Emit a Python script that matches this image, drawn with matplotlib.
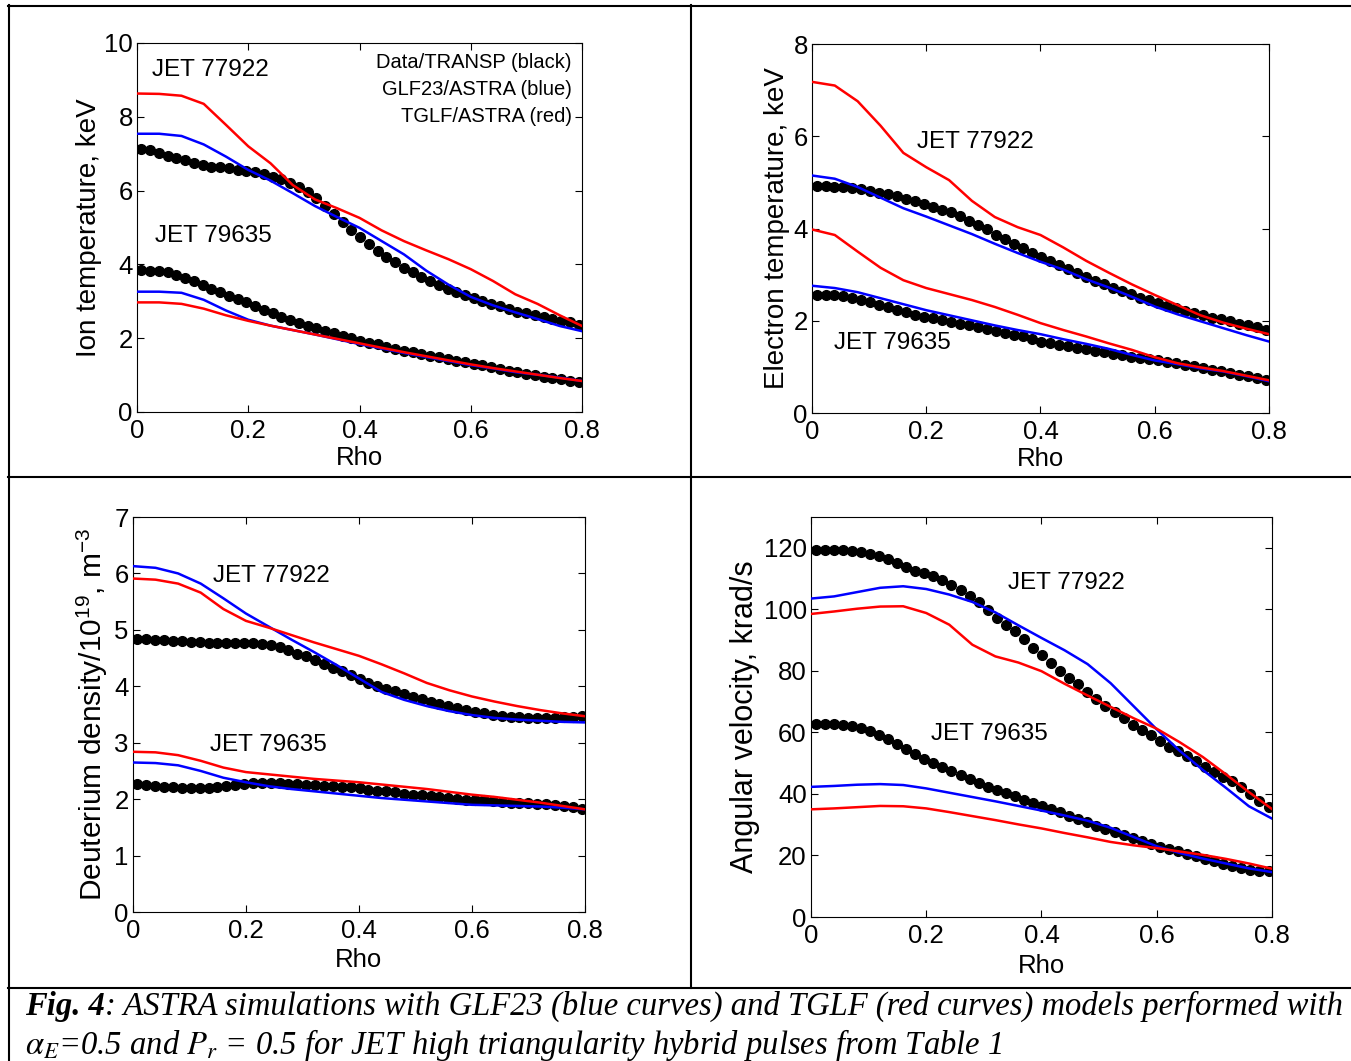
import numpy as np
import matplotlib
matplotlib.use('Agg')
import matplotlib.pyplot as plt
from matplotlib.lines import Line2D

plt.rcParams['font.family'] = ['Liberation Sans', 'DejaVu Sans']
plt.rcParams['mathtext.fontset'] = 'custom'
plt.rcParams['mathtext.rm'] = 'Liberation Sans'
plt.rcParams['mathtext.it'] = 'Liberation Sans:italic'

# radial grids: measured profiles (dots) and simulated profiles (lines)
rho_dots = np.linspace(0.008, 0.794, 51)
rho_line = np.linspace(0.0, 0.8, 21)

# ---- Ion temperature, keV ----
ti_77922_data = [7.13, 7.09, 7.03, 6.94, 6.88, 6.82, 6.74, 6.70, 6.65, 6.63,
                 6.60, 6.57, 6.54, 6.50, 6.45, 6.38, 6.31, 6.20, 6.09, 5.96,
                 5.80, 5.59, 5.37, 5.14, 4.94, 4.74, 4.54, 4.36, 4.20, 4.06,
                 3.91, 3.78, 3.66, 3.55, 3.44, 3.33, 3.24, 3.16, 3.08, 3.00,
                 2.92, 2.86, 2.79, 2.72, 2.67, 2.63, 2.58, 2.52, 2.47, 2.43, 2.37]
ti_77922_glf = [7.54, 7.54, 7.48, 7.25, 6.92, 6.56, 6.27, 5.93, 5.58, 5.28, 4.99,
                4.63, 4.27, 3.83, 3.45, 3.12, 2.89, 2.70, 2.52, 2.33, 2.19]
ti_77922_tglf = [8.63, 8.62, 8.57, 8.35, 7.78, 7.20, 6.74, 6.15, 5.76, 5.52, 5.26,
                 4.92, 4.63, 4.38, 4.14, 3.87, 3.55, 3.19, 2.93, 2.62, 2.33]
ti_79635_data = [3.84, 3.82, 3.81, 3.78, 3.72, 3.64, 3.55, 3.44, 3.34, 3.24,
                 3.15, 3.06, 2.97, 2.86, 2.76, 2.67, 2.58, 2.49, 2.42, 2.34,
                 2.27, 2.20, 2.13, 2.06, 2.00, 1.93, 1.88, 1.83, 1.77, 1.72,
                 1.66, 1.62, 1.57, 1.53, 1.48, 1.44, 1.39, 1.35, 1.30, 1.26,
                 1.21, 1.17, 1.12, 1.08, 1.03, 1.00, 0.96, 0.93, 0.89, 0.85, 0.81]
ti_79635_glf = [3.26, 3.26, 3.23, 3.04, 2.75, 2.50, 2.34, 2.22, 2.10, 1.97, 1.84,
                1.72, 1.60, 1.49, 1.38, 1.27, 1.18, 1.08, 1.01, 0.93, 0.84]
ti_79635_tglf = [2.97, 2.97, 2.93, 2.80, 2.62, 2.47, 2.34, 2.22, 2.10, 1.98, 1.86,
                 1.74, 1.62, 1.51, 1.40, 1.29, 1.19, 1.10, 1.01, 0.92, 0.84]

# ---- Electron temperature, keV ----
te_77922_data = [4.92, 4.92, 4.91, 4.89, 4.88, 4.86, 4.82, 4.78, 4.74, 4.70,
                 4.65, 4.60, 4.54, 4.47, 4.40, 4.35, 4.27, 4.17, 4.08, 3.99,
                 3.87, 3.77, 3.67, 3.58, 3.48, 3.39, 3.29, 3.21, 3.12, 3.04,
                 2.95, 2.86, 2.79, 2.72, 2.65, 2.58, 2.50, 2.45, 2.39, 2.33,
                 2.27, 2.22, 2.17, 2.12, 2.07, 2.03, 1.99, 1.94, 1.90, 1.86, 1.81]
te_77922_glf = [5.15, 5.08, 4.90, 4.67, 4.44, 4.26, 4.07, 3.88, 3.67, 3.47, 3.28,
                3.11, 2.90, 2.72, 2.52, 2.31, 2.14, 1.99, 1.84, 1.69, 1.55]
te_77922_tglf = [7.18, 7.10, 6.76, 6.23, 5.64, 5.33, 5.05, 4.60, 4.25, 4.03, 3.86,
                 3.59, 3.30, 3.04, 2.79, 2.56, 2.34, 2.12, 1.96, 1.83, 1.71]
te_79635_data = [2.56, 2.56, 2.55, 2.53, 2.49, 2.45, 2.40, 2.35, 2.29, 2.23,
                 2.18, 2.13, 2.09, 2.05, 2.01, 1.97, 1.94, 1.90, 1.86, 1.82,
                 1.78, 1.74, 1.70, 1.66, 1.60, 1.55, 1.52, 1.48, 1.45, 1.42,
                 1.38, 1.35, 1.32, 1.29, 1.25, 1.22, 1.19, 1.17, 1.14, 1.11,
                 1.08, 1.05, 1.01, 0.98, 0.94, 0.91, 0.87, 0.83, 0.80, 0.76, 0.71]
te_79635_glf = [2.76, 2.71, 2.62, 2.49, 2.36, 2.23, 2.12, 2.01, 1.90, 1.80, 1.71,
                1.60, 1.50, 1.39, 1.26, 1.14, 1.06, 0.97, 0.90, 0.80, 0.69]
te_79635_tglf = [3.98, 3.86, 3.50, 3.15, 2.88, 2.71, 2.58, 2.45, 2.30, 2.13, 1.95,
                 1.80, 1.66, 1.51, 1.37, 1.21, 1.08, 0.99, 0.91, 0.81, 0.71]

# ---- Deuterium density, 1e19 m^-3 ----
nd_77922_data = [4.83, 4.83, 4.82, 4.82, 4.81, 4.80, 4.79, 4.78, 4.77, 4.77,
                 4.76, 4.76, 4.76, 4.76, 4.75, 4.73, 4.69, 4.64, 4.58, 4.53,
                 4.47, 4.40, 4.33, 4.27, 4.20, 4.13, 4.06, 4.00, 3.95, 3.91,
                 3.86, 3.81, 3.77, 3.73, 3.69, 3.65, 3.62, 3.58, 3.55, 3.52,
                 3.50, 3.47, 3.46, 3.45, 3.44, 3.43, 3.43, 3.44, 3.45, 3.46, 3.47]
nd_77922_glf = [6.13, 6.10, 6.00, 5.82, 5.56, 5.29, 5.06, 4.83, 4.61, 4.38, 4.14,
                3.90, 3.76, 3.65, 3.56, 3.49, 3.44, 3.41, 3.39, 3.37, 3.36]
nd_77922_tglf = [5.91, 5.89, 5.82, 5.66, 5.37, 5.16, 5.04, 4.91, 4.78, 4.66, 4.54,
                 4.39, 4.23, 4.06, 3.93, 3.82, 3.73, 3.65, 3.58, 3.52, 3.47]
nd_79635_data = [2.27, 2.25, 2.24, 2.22, 2.21, 2.19, 2.19, 2.19, 2.19, 2.21,
                 2.24, 2.26, 2.27, 2.28, 2.28, 2.28, 2.28, 2.27, 2.27, 2.26,
                 2.25, 2.24, 2.23, 2.22, 2.21, 2.19, 2.17, 2.15, 2.14, 2.12,
                 2.10, 2.08, 2.07, 2.05, 2.04, 2.02, 2.01, 1.99, 1.99, 1.98,
                 1.97, 1.95, 1.94, 1.94, 1.93, 1.92, 1.91, 1.90, 1.88, 1.86, 1.83]
nd_79635_glf = [2.65, 2.64, 2.60, 2.50, 2.38, 2.30, 2.23, 2.18, 2.14, 2.10, 2.06,
                2.02, 1.99, 1.96, 1.93, 1.90, 1.89, 1.88, 1.87, 1.85, 1.82]
nd_79635_tglf = [2.84, 2.83, 2.78, 2.68, 2.56, 2.48, 2.44, 2.40, 2.36, 2.33, 2.30,
                 2.26, 2.22, 2.18, 2.13, 2.08, 2.04, 1.99, 1.94, 1.88, 1.82]

# ---- Angular velocity, krad/s ----
om_77922_data = [119.3, 119.3, 119.3, 119.2, 119.0, 118.6, 118.0, 117.4, 116.3, 115.0,
                 113.7, 112.5, 111.7, 110.7, 109.4, 108.0, 106.2, 104.2, 102.3, 99.9,
                 97.3, 94.9, 92.9, 90.2, 87.5, 85.0, 82.4, 79.9, 77.8, 75.6,
                 73.1, 70.7, 68.6, 66.7, 64.8, 62.4, 60.8, 59.1, 57.2, 55.4,
                 54.0, 52.2, 50.8, 48.9, 47.2, 45.6, 44.2, 42.1, 40.0, 37.7, 35.6]
om_77922_glf = [103.5, 104.2, 105.6, 107.0, 107.5, 106.6, 104.8, 102.4, 99.0, 94.8, 90.7,
                86.7, 82.2, 76.0, 68.5, 61.0, 54.0, 47.8, 42.0, 36.0, 32.0]
om_77922_tglf = [98.5, 99.3, 100.2, 100.9, 101.0, 98.8, 95.0, 88.5, 84.7, 82.7, 79.9,
                 75.8, 72.0, 68.3, 64.6, 61.2, 56.8, 52.0, 46.4, 40.6, 35.1]
om_79635_data = [62.7, 62.7, 62.6, 62.5, 62.1, 61.3, 60.5, 59.2, 57.8, 56.3,
                 54.5, 52.9, 51.3, 50.0, 48.8, 47.5, 46.2, 45.0, 43.7, 42.4,
                 41.3, 40.2, 39.2, 38.1, 36.9, 36.0, 35.1, 34.0, 32.9, 31.9,
                 30.8, 29.7, 28.6, 27.5, 26.7, 25.7, 24.7, 23.8, 22.9, 22.1,
                 21.3, 20.5, 19.7, 18.9, 18.1, 17.3, 16.5, 15.9, 15.3, 15.0, 14.8]
om_79635_glf = [42.3, 42.6, 43.0, 43.2, 42.9, 41.8, 40.4, 39.0, 37.6, 36.1, 34.6,
                33.0, 31.3, 29.0, 26.0, 23.0, 20.8, 19.0, 17.4, 15.8, 14.6]
om_79635_tglf = [35.0, 35.3, 35.7, 36.1, 36.0, 35.3, 34.1, 32.8, 31.5, 30.1, 28.8,
                 27.3, 25.9, 24.4, 23.3, 22.4, 21.3, 20.2, 18.9, 17.4, 15.7]

panels = [
    dict(rect=[0.1014, 0.6117, 0.3294, 0.3478], ylim=(0, 10), yticks=[0, 2, 4, 6, 8, 10],
         ylabel='Ion temperature, keV', lx=-0.079, lsize=20,
         series=[(ti_77922_data, ti_77922_glf, ti_77922_tglf),
                 (ti_79635_data, ti_79635_glf, ti_79635_tglf)],
         labels=[(0.027, 9.27), (0.032, 4.77)]),
    dict(rect=[0.6010, 0.6107, 0.3383, 0.3478], ylim=(0, 8), yticks=[0, 2, 4, 6, 8],
         ylabel='Electron temperature, keV', lx=-0.048, lsize=20,
         series=[(te_77922_data, te_77922_glf, te_77922_tglf),
                 (te_79635_data, te_79635_glf, te_79635_tglf)],
         labels=[(0.184, 5.88), (0.0385, 1.52)]),
    dict(rect=[0.0984, 0.1404, 0.3346, 0.3723], ylim=(0, 7), yticks=[0, 1, 2, 3, 4, 5, 6, 7],
         ylabel=r'Deuterium density/10$^{19}$, m$^{-3}$', lx=-0.051, lsize=21.5,
         series=[(nd_77922_data, nd_77922_glf, nd_77922_tglf),
                 (nd_79635_data, nd_79635_glf, nd_79635_tglf)],
         labels=[(0.1416, 5.96), (0.136, 2.96)]),
    dict(rect=[0.6003, 0.1357, 0.3412, 0.3770], ylim=(0, 130), yticks=[0, 20, 40, 60, 80, 100, 120],
         ylabel='Angular velocity, krad/s', lx=-0.111, lsize=22,
         series=[(om_77922_data, om_77922_glf, om_77922_tglf),
                 (om_79635_data, om_79635_glf, om_79635_tglf)],
         labels=[(0.342, 108.6), (0.208, 59.5)]),
]
pulse_names = ['JET 77922', 'JET 79635']

fig = plt.figure(figsize=(13.51, 10.61), dpi=100)

for i, p in enumerate(panels):
    ax = fig.add_axes(p['rect'])
    for data, glf, tglf in p['series']:
        ax.plot(rho_dots, data, 'o', color='black', markersize=7, zorder=2)
        ax.plot(rho_line, glf, color='#0000ff', lw=1.8, zorder=3)
        ax.plot(rho_line, tglf, color='#ff0000', lw=1.8, zorder=4)
    for name, (x, y) in zip(pulse_names, p['labels']):
        ax.text(x, y, name, fontsize=17.5, ha='left', va='center')
    ax.set_xlim(0, 0.8)
    ax.set_ylim(*p['ylim'])
    ax.set_xticks([0, 0.2, 0.4, 0.6, 0.8])
    ax.set_xticklabels(['0', '0.2', '0.4', '0.6', '0.8'])
    ax.set_yticks(p['yticks'])
    ax.tick_params(direction='in', top=True, right=True, length=5, width=0.8,
                   labelsize=18.5)
    ax.tick_params(axis='x', pad=5)
    ax.tick_params(axis='y', pad=3)
    for s in ax.spines.values():
        s.set_linewidth(0.8)
    ax.set_xlabel('Rho', fontsize=18.5)
    ax.xaxis.set_label_coords(0.5, -0.092)
    ax.set_ylabel(p['ylabel'], fontsize=p['lsize'])
    ax.yaxis.set_label_coords(p['lx'], 0.5)
    if i == 0:
        ax.text(0.782, 9.46, 'Data/TRANSP (black)', fontsize=14.5, ha='right', va='center')
        ax.text(0.782, 8.73, 'GLF23/ASTRA (blue)', fontsize=14.5, ha='right', va='center')
        ax.text(0.782, 8.00, 'TGLF/ASTRA (red)', fontsize=14.5, ha='right', va='center')

# table frame around the panels
W, H = 1351.0, 1061.0
def hline(y, x0, x1, lw=1.5):
    fig.add_artist(Line2D([x0 / W, x1 / W], [1 - y / H, 1 - y / H], color='black',
                          lw=lw, transform=fig.transFigure))
def vline(x, y0, y1, lw=1.5):
    fig.add_artist(Line2D([x / W, x / W], [1 - y0 / H, 1 - y1 / H], color='black',
                          lw=lw, transform=fig.transFigure))

hline(5.5, 8, 1351)
hline(477, 8, 1351)
hline(988, 8, 1351)
vline(9, 5, 1061)
vline(691, 5, 988)

# caption
cap_font = ['Liberation Serif', 'DejaVu Serif']
plt.rcParams['mathtext.fontset'] = 'stix'
t1 = fig.text(25 / W, 1 - 1006 / H, 'Fig. 4', fontsize=23.5, family=cap_font,
              style='italic', weight='bold', va='center')
fig.canvas.draw()
bb = t1.get_window_extent()
fig.text(bb.x1 / W, 1 - 1006 / H,
         ': ASTRA simulations with GLF23 (blue curves) and TGLF (red curves) models performed with',
         fontsize=23.5, family=cap_font, style='italic', va='center')
fig.text(25 / W, 1 - 1045 / H,
         r'$\alpha_{E}$=0.5 and $P_{r}$ = 0.5 for JET high triangularity hybrid pulses from Table 1',
         fontsize=23.5, family=cap_font, style='italic', va='center')

fig.savefig('out.png', dpi=100)
